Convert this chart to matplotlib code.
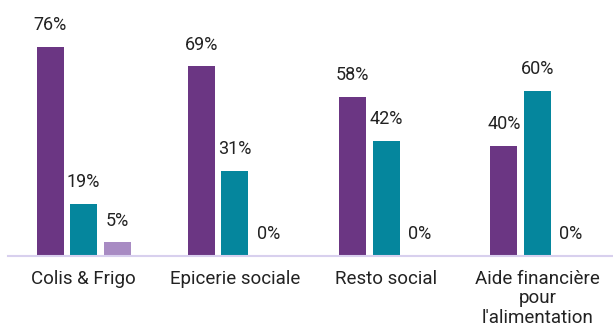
import numpy as np
import matplotlib.pyplot as plt

plt.rcParams['font.family'] = ['Roboto', 'DejaVu Sans']

categories = ['Colis & Frigo', 'Epicerie sociale', 'Resto social', 'Aide financière\npour\nl\'alimentation']
serie_1 = [76, 69, 58, 40]
serie_2 = [19, 31, 42, 60]
serie_3 = [5, 0, 0, 0]

colors = ['#6b3683', '#05869d', '#a88bc3']

fig = plt.figure(figsize=(6.13, 3.32), dpi=100)
ax = fig.add_axes([8 / 613, 1 - 256 / 332, 605 / 613, 220 / 332])

x = np.arange(len(categories))
width = 0.178
step = 0.221

for i, (vals, c) in enumerate(zip([serie_1, serie_2, serie_3], colors)):
    pos = x + (i - 1) * step
    ax.bar(pos, vals, width=width, color=c)
    for p, v in zip(pos, vals):
        ax.text(p, v + 4.6, f'{v}%', ha='center', va='bottom', fontsize=13, color='#222222')

ax.set_xlim(-0.5, len(categories) - 0.5)
ax.set_ylim(0, 80)
ax.set_xticks(x)
ax.set_xticklabels(categories, fontsize=13.5, color='#222222', linespacing=1.1)
ax.tick_params(axis='x', length=0, pad=10)
ax.set_yticks([])
for s in ['top', 'right', 'left']:
    ax.spines[s].set_visible(False)
ax.spines['bottom'].set_color('#d8d0ee')
ax.spines['bottom'].set_linewidth(1.5)

plt.savefig('out.png', dpi=100)
